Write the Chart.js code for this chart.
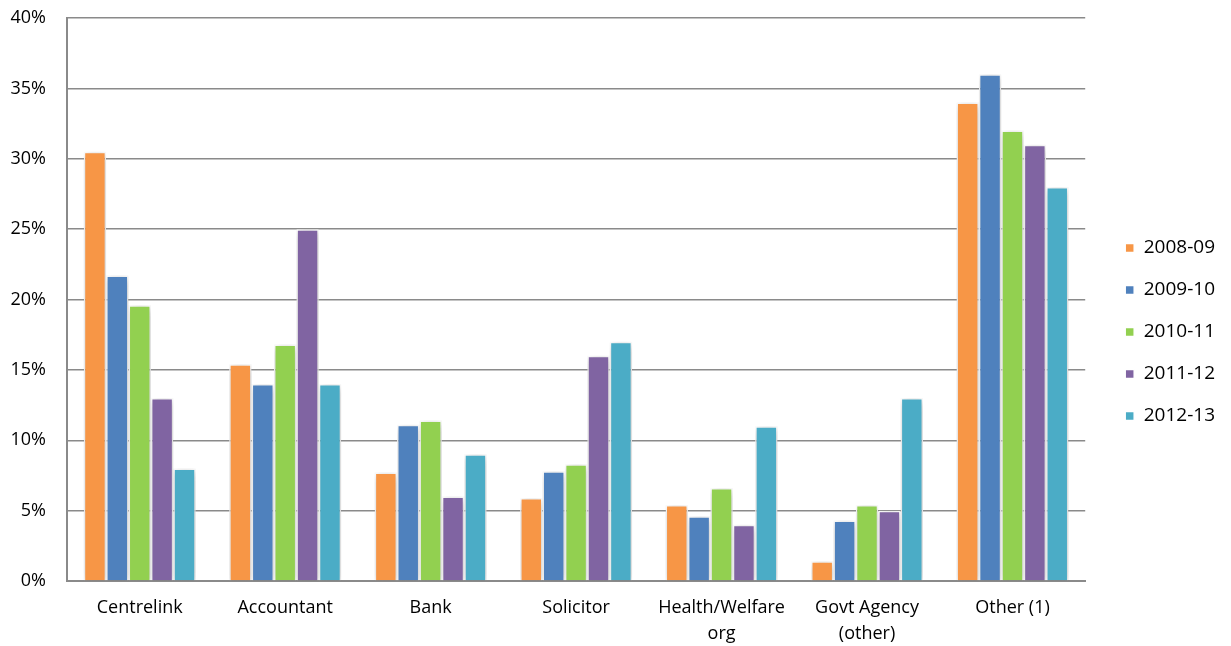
<!DOCTYPE html>
<html>
<head>
<meta charset="utf-8">
<script src="https://cdn.jsdelivr.net/npm/chart.js@4/dist/chart.umd.min.js"></script>
<style>
  html, body { margin: 0; padding: 0; background: #fff; }
  #wrap { width: 1231px; height: 646px; }
</style>
</head>
<body>
<div id="wrap"><canvas id="chart"></canvas></div>
<script>
const categories = [
  'Centrelink', 'Accountant', 'Bank', 'Solicitor',
  ['Health/Welfare', 'org'], ['Govt Agency', '(other)'], 'Other (1)'
];
const years = ['2008-09', '2009-10', '2010-11', '2011-12', '2012-13'];
const y0809 = [30.5, 15.4, 7.7, 5.9, 5.4, 1.4, 34];
const y0910 = [21.7, 14.0, 11.1, 7.8, 4.6, 4.3, 36];
const y1011 = [19.6, 16.8, 11.4, 8.3, 6.6, 5.4, 32];
const y1112 = [13.0, 25.0, 6.0, 16.0, 4.0, 5.0, 31];
const y1213 = [8.0, 14.0, 9.0, 17.0, 11.0, 13.0, 28];
const colors = ['#F79646', '#4F81BD', '#92D050', '#8064A2', '#4BACC6'];

const series = [y0809, y0910, y1011, y1112, y1213];
const gridGrey = '#8a8a8a';
const family = '"Open Sans", "Liberation Sans", sans-serif';

// soft drop shadow under the bars, like office charts do
const barShadow = {
  id: 'barShadow',
  beforeDatasetsDraw(chart) {
    const ctx = chart.ctx;
    ctx.save();
    ctx.shadowColor = 'rgba(0,0,0,0.25)';
    ctx.shadowBlur = 8;
    ctx.shadowOffsetX = 1;
    ctx.shadowOffsetY = 2;
  },
  afterDatasetsDraw(chart) {
    chart.ctx.restore();
  }
};

new Chart(document.getElementById('chart'), {
  type: 'bar',
  data: {
    labels: categories,
    datasets: series.map((values, i) => ({
      label: years[i],
      data: values,
      backgroundColor: colors[i],
      borderColor: '#ffffff',
      borderWidth: 1.5,
      barPercentage: 1,
      categoryPercentage: 0.77,
    })),
  },
  options: {
    responsive: true,
    maintainAspectRatio: false,
    animation: false,
    layout: {
      padding: { top: 18, right: 6, left: 0, bottom: 0 }
    },
    scales: {
      x: {
        afterFit: scale => { scale.height = 65; },
        grid: { display: false, drawTicks: false },
        border: { color: gridGrey, width: 2 },
        ticks: {
          color: '#000',
          font: { family, size: 18, lineHeight: 1.45 },
          padding: 14,
          maxRotation: 0,
          autoSkip: false,
        },
      },
      y: {
        min: 0,
        max: 40,
        afterFit: scale => {
          scale.width = 67;
          scale.paddingTop = 0;
          scale.paddingBottom = 0;
        },
        grid: { color: gridGrey, lineWidth: 1.5, drawTicks: false },
        border: { color: gridGrey, width: 2 },
        ticks: {
          stepSize: 5,
          color: '#000',
          font: { family, size: 18 },
          padding: 21,
          callback: v => v + '%',
        },
      },
      // empty spacer between the plot and the legend
      gap: {
        type: 'linear',
        position: 'right',
        afterFit: scale => { scale.width = 17; },
        grid: { display: false, drawTicks: false },
        border: { display: false },
        ticks: { display: false },
      },
    },
    plugins: {
      legend: {
        position: 'right',
        align: 'center',
        labels: {
          boxWidth: 9,
          boxHeight: 9,
          padding: 23,
          color: '#000',
          font: { family, size: 19 },
        },
      },
      tooltip: { enabled: false },
    },
  },
  plugins: [barShadow],
});
</script>
</body>
</html>
